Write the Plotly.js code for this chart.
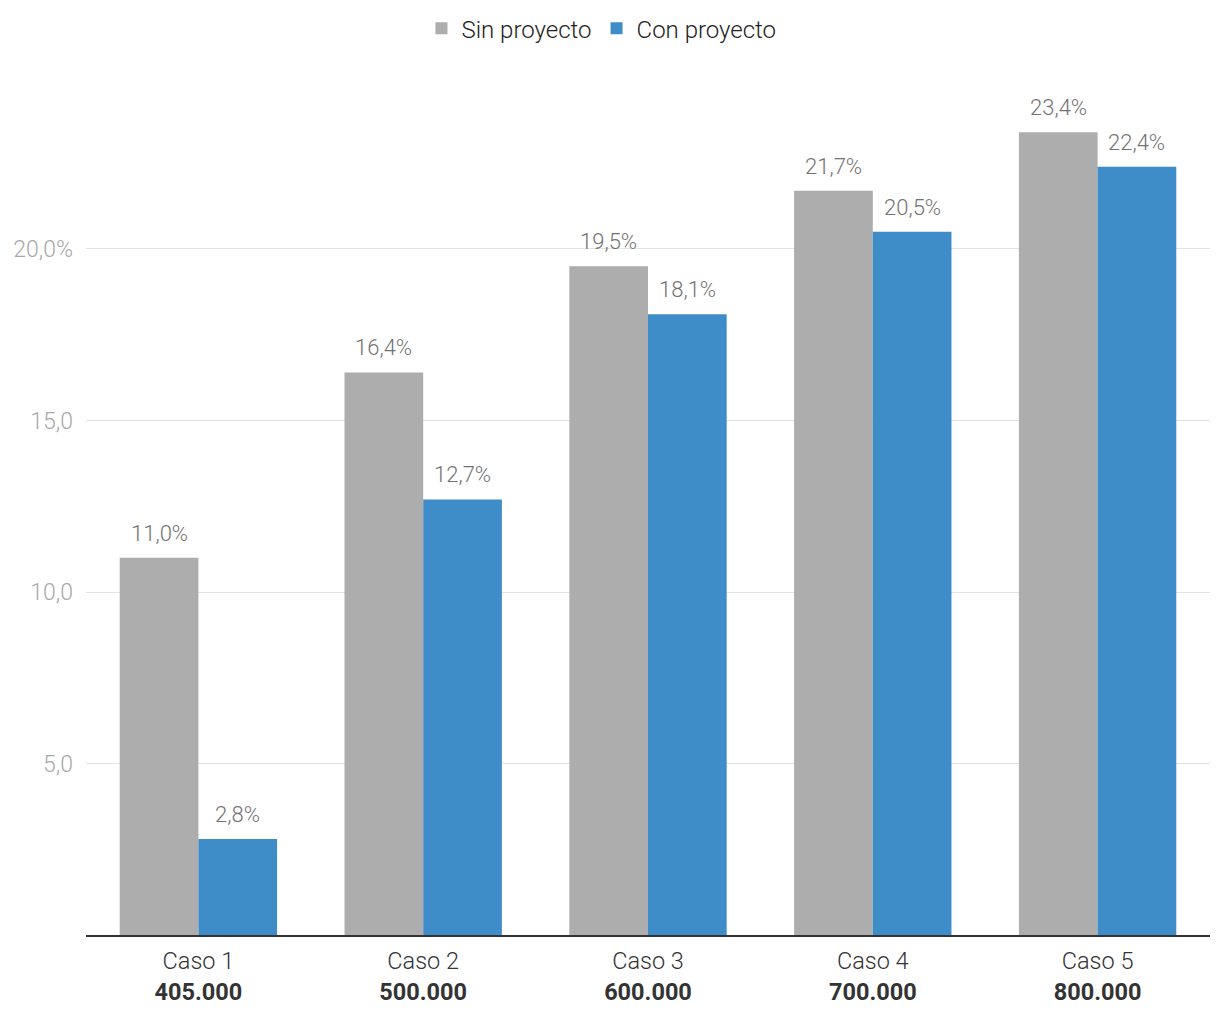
<!DOCTYPE html>
<html>
<head>
<meta charset="utf-8">
<script src="https://cdn.plot.ly/plotly-3.0.1.min.js"></script>
<style>html,body{margin:0;padding:0;background:#fff;}#chart{width:1220px;height:1020px;}</style>
</head>
<body>
<div id="chart"></div>
<script>
const cases = ["Caso 1", "Caso 2", "Caso 3", "Caso 4", "Caso 5"];
const amounts = ["405.000", "500.000", "600.000", "700.000", "800.000"];
const sinProyecto = [11.0, 16.4, 19.5, 21.7, 23.4];
const conProyecto = [2.8, 12.7, 18.1, 20.5, 22.4];
const seriesNames = ["Sin proyecto", "Con proyecto"];
const yTickVals = [5, 10, 15, 20];
const yTickText = ["5,0", "10,0", "15,0", "20,0%"];

const fmt = v => v.toFixed(1).replace(".", ",") + "%";
const catLabels = cases.map((c, i) => c + "<br><b>" + amounts[i] + "</b>");

const FONT = "Roboto, 'Open Sans', sans-serif";
const barW = 0.35;

const traces = [
  {type: "bar", name: seriesNames[0], x: catLabels, y: sinProyecto,
   marker: {color: "#adadad"}, hoverinfo: "none"},
  {type: "bar", name: seriesNames[1], x: catLabels, y: conProyecto,
   marker: {color: "#3f8dc8"}, hoverinfo: "none"}
];

const annotations = [];
[sinProyecto, conProyecto].forEach((arr, s) => {
  arr.forEach((v, i) => {
    annotations.push({
      x: i + (s === 0 ? -barW / 2 : barW / 2), y: v, xref: "x", yref: "y",
      text: fmt(v), showarrow: false, yanchor: "bottom", yshift: 10,
      font: {family: FONT, size: 22, color: "#737373", weight: 300}
    });
  });
});

const layout = {
  width: 1220, height: 1020,
  margin: {l: 86, r: 10, t: 60, b: 85},
  paper_bgcolor: "#fff", plot_bgcolor: "#fff",
  font: {family: FONT, size: 21, color: "#333"},
  barmode: "group", bargap: 0.3, bargroupgap: 0,
  showlegend: true,
  legend: {orientation: "h", xref: "container", yref: "container",
           x: 0.493, xanchor: "center", y: 0.972, yanchor: "middle",
           font: {family: FONT, size: 24, color: "#222", weight: 300}, traceorder: "normal"},
  xaxis: {type: "category", showgrid: false, showline: true, linecolor: "#333", linewidth: 2,
          ticks: "", ticklabelstandoff: 4,
          tickfont: {family: FONT, size: 23.5, color: "#333", weight: 300},
          fixedrange: true},
  yaxis: {range: [0, 25.51], tickvals: yTickVals, ticktext: yTickText,
          showgrid: true, gridcolor: "#e3e3e3", gridwidth: 1, zeroline: false,
          showline: false, ticks: "", ticklabelstandoff: 12,
          tickfont: {family: FONT, size: 23, color: "#a8a8a8", weight: 300}, fixedrange: true},
  annotations: annotations
};

Plotly.newPlot("chart", traces, layout, {displayModeBar: false, staticPlot: true});
</script>
</body>
</html>
